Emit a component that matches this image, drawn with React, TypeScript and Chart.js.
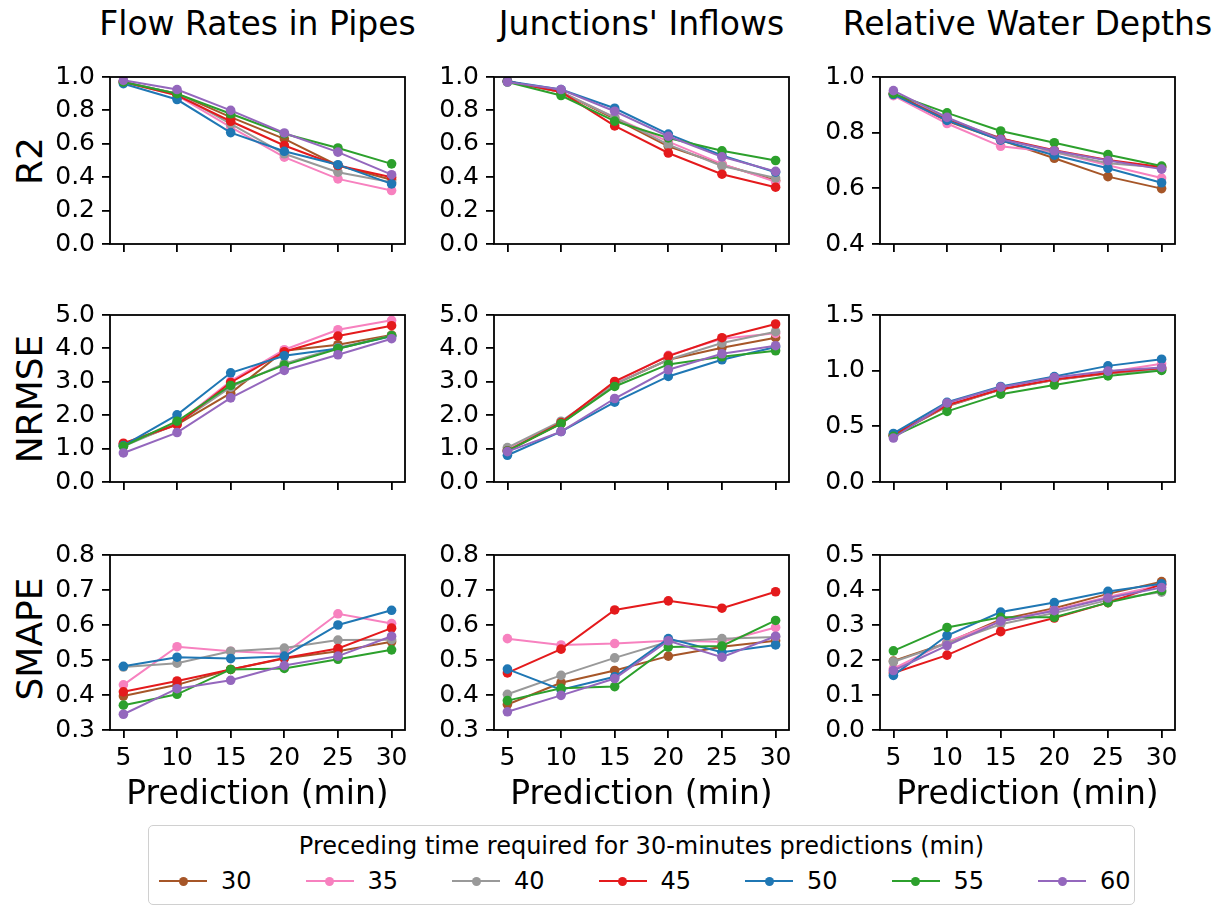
import React, { useEffect, useRef } from "react";
import { Chart, registerables } from "chart.js";

Chart.register(...registerables);

const X_VALUES = [5, 10, 15, 20, 25, 30];
const SERIES_LABELS = ["30", "35", "40", "45", "50", "55", "60"];
const SERIES_COLORS = ["#a65628", "#f781bf", "#999999", "#e41a1c", "#1f77b4", "#2ca02c", "#9467bd"];
const COLUMN_TITLES = ["Flow Rates in Pipes", "Junctions' Inflows", "Relative Water Depths"];
const ROW_LABELS = ["R2", "NRMSE", "SMAPE"];
const X_LABEL = "Prediction (min)";
const LEGEND_TITLE = "Preceding time required for 30-minutes predictions (min)";

// rows: series 30,35,40,45,50,55,60 ; columns: prediction 5..30
const r2Flow = [
  [0.97, 0.9, 0.76, 0.63, 0.47, 0.385],
  [0.97, 0.89, 0.7, 0.52, 0.39, 0.32],
  [0.97, 0.9, 0.72, 0.54, 0.43, 0.37],
  [0.97, 0.89, 0.735, 0.59, 0.47, 0.4],
  [0.96, 0.865, 0.667, 0.555, 0.475, 0.36],
  [0.97, 0.9, 0.78, 0.66, 0.575, 0.48],
  [0.98, 0.925, 0.8, 0.665, 0.55, 0.415],
];
const r2Junc = [
  [0.975, 0.91, 0.75, 0.585, 0.476, 0.38],
  [0.975, 0.91, 0.758, 0.613, 0.48, 0.373],
  [0.975, 0.91, 0.758, 0.595, 0.467, 0.395],
  [0.975, 0.91, 0.707, 0.545, 0.418, 0.34],
  [0.975, 0.925, 0.813, 0.658, 0.53, 0.43],
  [0.97, 0.889, 0.736, 0.635, 0.558, 0.5],
  [0.97, 0.925, 0.795, 0.645, 0.522, 0.435],
];
const r2Depth = [
  [0.94, 0.842, 0.773, 0.708, 0.642, 0.599],
  [0.933, 0.833, 0.751, 0.73, 0.683, 0.637],
  [0.94, 0.85, 0.78, 0.73, 0.69, 0.675],
  [0.94, 0.846, 0.779, 0.737, 0.702, 0.677],
  [0.937, 0.844, 0.773, 0.719, 0.672, 0.62],
  [0.94, 0.871, 0.806, 0.764, 0.721, 0.68],
  [0.951, 0.855, 0.776, 0.735, 0.7, 0.669],
];
const nrmseFlow = [
  [1.12, 1.72, 2.66, 3.93, 4.11, 4.4],
  [1.14, 1.75, 3.02, 3.96, 4.56, 4.84],
  [1.07, 1.75, 2.84, 3.54, 4.02, 4.38],
  [1.16, 1.72, 2.98, 3.9, 4.37, 4.68],
  [1.09, 2.01, 3.27, 3.78, 4.0, 4.36],
  [1.07, 1.82, 2.89, 3.5, 3.99, 4.38],
  [0.87, 1.48, 2.52, 3.34, 3.81, 4.29],
];
const nrmseJunc = [
  [0.93, 1.75, 2.93, 3.66, 4.02, 4.32],
  [0.98, 1.78, 2.98, 3.79, 4.29, 4.45],
  [1.03, 1.82, 2.93, 3.66, 4.16, 4.5],
  [0.93, 1.78, 3.01, 3.77, 4.32, 4.73],
  [0.8, 1.51, 2.39, 3.16, 3.66, 4.04],
  [0.93, 1.75, 2.86, 3.52, 3.75, 3.93],
  [0.91, 1.51, 2.5, 3.36, 3.84, 4.08],
];
const nrmseDepth = [
  [0.42, 0.68, 0.83, 0.915, 0.975, 1.015],
  [0.42, 0.69, 0.835, 0.92, 0.988, 1.062],
  [0.42, 0.685, 0.83, 0.915, 0.98, 1.007],
  [0.42, 0.689, 0.833, 0.92, 0.98, 1.024],
  [0.436, 0.716, 0.858, 0.947, 1.043, 1.103],
  [0.41, 0.634, 0.789, 0.871, 0.953, 1.002],
  [0.395, 0.71, 0.852, 0.939, 0.996, 1.029],
];
const smapeFlow = [
  [0.397, 0.429, 0.473, 0.504, 0.525, 0.552],
  [0.429, 0.538, 0.525, 0.518, 0.632, 0.604],
  [0.48, 0.491, 0.525, 0.534, 0.557, 0.558],
  [0.409, 0.44, 0.473, 0.506, 0.533, 0.591],
  [0.482, 0.508, 0.504, 0.511, 0.6, 0.642],
  [0.371, 0.402, 0.473, 0.476, 0.502, 0.529],
  [0.345, 0.418, 0.442, 0.484, 0.511, 0.568],
];
const smapeJunc = [
  [0.373, 0.435, 0.47, 0.511, 0.538, 0.555],
  [0.561, 0.543, 0.547, 0.555, 0.552, 0.593],
  [0.402, 0.456, 0.506, 0.552, 0.561, 0.566],
  [0.463, 0.531, 0.643, 0.669, 0.648, 0.695],
  [0.474, 0.415, 0.452, 0.561, 0.522, 0.543],
  [0.384, 0.419, 0.424, 0.537, 0.54, 0.613],
  [0.352, 0.399, 0.447, 0.555, 0.508, 0.568],
];
const smapeDepth = [
  [0.197, 0.249, 0.316, 0.348, 0.389, 0.424],
  [0.175, 0.252, 0.311, 0.343, 0.38, 0.414],
  [0.195, 0.247, 0.302, 0.334, 0.371, 0.394],
  [0.163, 0.214, 0.281, 0.32, 0.364, 0.416],
  [0.156, 0.27, 0.337, 0.364, 0.396, 0.418],
  [0.226, 0.293, 0.322, 0.322, 0.364, 0.398],
  [0.17, 0.241, 0.311, 0.341, 0.377, 0.407],
];

const R2_TICKS = [0, 0.2, 0.4, 0.6, 0.8, 1.0];
const R2_DEPTH_TICKS = [0.4, 0.6, 0.8, 1.0];
const NRMSE_TICKS = [0, 1, 2, 3, 4, 5];
const NRMSE_DEPTH_TICKS = [0, 0.5, 1.0, 1.5];
const SMAPE_TICKS = [0.3, 0.4, 0.5, 0.6, 0.7, 0.8];
const SMAPE_DEPTH_TICKS = [0, 0.1, 0.2, 0.3, 0.4, 0.5];

const PANEL_DATA = [
  [r2Flow, r2Junc, r2Depth],
  [nrmseFlow, nrmseJunc, nrmseDepth],
  [smapeFlow, smapeJunc, smapeDepth],
];
const PANEL_TICKS = [
  [R2_TICKS, R2_TICKS, R2_DEPTH_TICKS],
  [NRMSE_TICKS, NRMSE_TICKS, NRMSE_DEPTH_TICKS],
  [SMAPE_TICKS, SMAPE_TICKS, SMAPE_DEPTH_TICKS],
];

// layout (pixels)
const COL_LEFT = [110, 494, 880];
const COL_WIDTH = 295;
const ROW_TOP = [69, 307, 547];
const ROW_HEIGHT = 183;
const PAD_L = 76;
const PAD_T = 14;
const PAD_R = 14;
const FONT = "'DejaVu Sans', sans-serif";
const TICK_FONT = 25;

const framePlugin = {
  id: "frame",
  afterDraw(chart: any) {
    const { ctx, chartArea } = chart;
    ctx.save();
    ctx.strokeStyle = "#000";
    ctx.lineWidth = 1.8;
    ctx.strokeRect(chartArea.left, chartArea.top, chartArea.right - chartArea.left, chartArea.bottom - chartArea.top);
    ctx.restore();
  },
};

function Panel({ data, yTicks, row, col }: { data: number[][]; yTicks: number[]; row: number; col: number }) {
  const ref = useRef<HTMLCanvasElement>(null);
  const showX = row === 2;
  const bottomH = showX ? 54 : 14;
  const w = PAD_L + COL_WIDTH + PAD_R;
  const h = PAD_T + ROW_HEIGHT + bottomH;
  useEffect(() => {
    if (!ref.current) return;
    const chart = new Chart(ref.current, {
      type: "line",
      data: {
        datasets: data.map((vals, i) => ({
          label: SERIES_LABELS[i],
          data: X_VALUES.map((x, j) => ({ x, y: vals[j] })),
          borderColor: SERIES_COLORS[i],
          backgroundColor: SERIES_COLORS[i],
          pointBackgroundColor: SERIES_COLORS[i],
          pointBorderColor: SERIES_COLORS[i],
          pointBorderWidth: 0,
          pointRadius: 4.8,
          borderWidth: 2,
          tension: 0,
          order: SERIES_LABELS.length - i,
        })),
      },
      options: {
        animation: false,
        responsive: false,
        events: [],
        layout: { padding: { top: PAD_T, right: PAD_R, left: 0, bottom: 0 } },
        plugins: { legend: { display: false }, tooltip: { enabled: false }, title: { display: false } },
        scales: {
          x: {
            type: "linear",
            min: 3.75,
            max: 31.25,
            afterBuildTicks: (s: any) => {
              s.ticks = X_VALUES.map((v) => ({ value: v }));
            },
            afterFit: (s: any) => {
              s.height = bottomH;
            },
            border: { display: false },
            grid: { drawOnChartArea: false, drawTicks: true, tickLength: 8, color: "#000", lineWidth: 1.8 },
            ticks: {
              display: showX,
              padding: 5,
              color: "#000",
              font: { family: FONT, size: TICK_FONT },
              maxRotation: 0,
              autoSkip: false,
              callback: (v: any) => String(v),
            },
          },
          y: {
            type: "linear",
            min: yTicks[0],
            max: yTicks[yTicks.length - 1],
            afterBuildTicks: (s: any) => {
              s.ticks = yTicks.map((v) => ({ value: v }));
            },
            afterFit: (s: any) => {
              s.width = PAD_L;
            },
            border: { display: false },
            grid: { drawOnChartArea: false, drawTicks: true, tickLength: 8, color: "#000", lineWidth: 1.8 },
            ticks: {
              padding: 7,
              color: "#000",
              font: { family: FONT, size: TICK_FONT },
              autoSkip: false,
              callback: (v: any) => Number(v).toFixed(1),
            },
          },
        },
      },
      plugins: [framePlugin],
    } as any);
    return () => chart.destroy();
  }, []);
  return (
    <canvas
      ref={ref}
      width={w}
      height={h}
      style={{
        position: "absolute",
        left: COL_LEFT[col] - PAD_L,
        top: ROW_TOP[row] - PAD_T,
        width: w,
        height: h,
      }}
    />
  );
}

export default function App() {
  const textBase: React.CSSProperties = {
    position: "absolute",
    fontFamily: FONT,
    color: "#000",
    whiteSpace: "nowrap",
  };
  return (
    <div
      style={{
        position: "absolute",
        left: 0,
        top: 0,
        width: 1221,
        height: 906,
        overflow: "hidden",
        background: "#fff",
      }}
    >
      {COLUMN_TITLES.map((t, c) => (
        <div
          key={"t" + c}
          style={{
            ...textBase,
            left: COL_LEFT[c] + COL_WIDTH / 2,
            top: 7,
            fontSize: 33,
            lineHeight: "33px",
            transform: "translateX(-50%)",
          }}
        >
          {t}
        </div>
      ))}
      {ROW_LABELS.map((t, r) => (
        <div
          key={"r" + r}
          style={{
            ...textBase,
            left: 30,
            top: ROW_TOP[r] + ROW_HEIGHT / 2,
            fontSize: 36,
            lineHeight: "36px",
            transform: "translate(-50%, -50%) rotate(-90deg)",
          }}
        >
          {t}
        </div>
      ))}
      {PANEL_DATA.map((rowData, r) =>
        rowData.map((d, c) => <Panel key={r + "-" + c} data={d} yTicks={PANEL_TICKS[r][c]} row={r} col={c} />)
      )}
      {COLUMN_TITLES.map((_, c) => (
        <div
          key={"x" + c}
          style={{
            ...textBase,
            left: COL_LEFT[c] + COL_WIDTH / 2,
            top: 776,
            fontSize: 33,
            lineHeight: "33px",
            transform: "translateX(-50%)",
          }}
        >
          {X_LABEL}
        </div>
      ))}
      <div
        style={{
          position: "absolute",
          left: 148,
          top: 825,
          width: 987,
          height: 80,
          border: "1.5px solid #d0d0d0",
          borderRadius: 5,
          boxSizing: "border-box",
          fontFamily: FONT,
          background: "#fff",
        }}
      >
        <div
          style={{
            position: "absolute",
            left: 0,
            right: 0,
            top: 6,
            textAlign: "center",
            fontSize: 24,
            lineHeight: "28px",
            color: "#000",
            whiteSpace: "nowrap",
          }}
        >
          {LEGEND_TITLE}
        </div>
        {SERIES_LABELS.map((lab, i) => (
          <div
            key={lab}
            style={{
              position: "absolute",
              left: 10 + i * 146.5,
              top: 41,
              height: 28,
              display: "flex",
              alignItems: "center",
            }}
          >
            <div style={{ position: "relative", width: 48, height: 28 }}>
              <div
                style={{
                  position: "absolute",
                  left: 0,
                  top: 13,
                  width: 48,
                  height: 2,
                  background: SERIES_COLORS[i],
                }}
              />
              <div
                style={{
                  position: "absolute",
                  left: 19.5,
                  top: 9.5,
                  width: 9,
                  height: 9,
                  borderRadius: "50%",
                  background: SERIES_COLORS[i],
                }}
              />
            </div>
            <span style={{ marginLeft: 14, fontSize: 24, lineHeight: "28px", color: "#000" }}>{lab}</span>
          </div>
        ))}
      </div>
    </div>
  );
}
